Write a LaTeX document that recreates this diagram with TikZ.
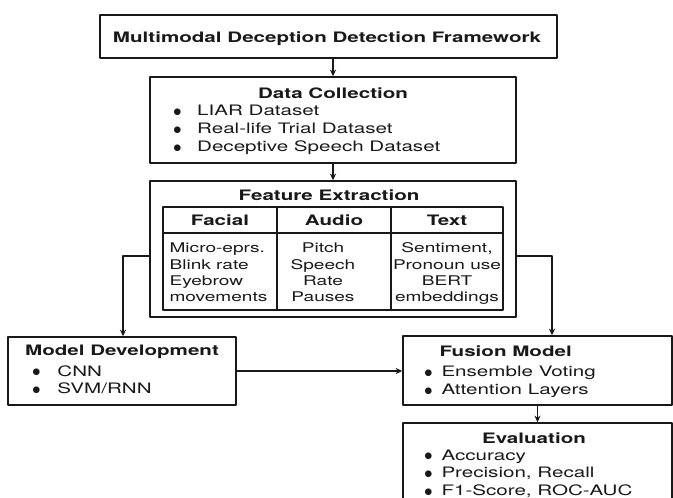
\documentclass[tikz,border=0pt]{standalone}
\usepackage{fontspec}
\setmainfont{TeX Gyre Heros}[FakeStretch=1.43]
\newfontfamily\dotfont{DejaVu Sans}
\usetikzlibrary{fit,arrows.meta}

\newcommand\bodysize{\fontsize{10.8}{13.3}\selectfont}
\newcommand\cellsize{\fontsize{10}{12.2}\selectfont}
\newcommand\dotmark{\raisebox{0.9pt}{\dotfont\fontsize{6.5}{0}\selectfont ●}}

\tikzset{
  box/.style={draw, line width=1.1pt, inner sep=0pt},
  cell/.style={draw, line width=0.9pt, inner sep=0pt},
  head/.style={font=\bodysize\bfseries, anchor=base, inner sep=0pt},
  list/.style={font=\bodysize, anchor=base west, inner sep=0pt},
  col/.style={font=\cellsize, anchor=base, inner sep=0pt},
}

\begin{document}
\begin{tikzpicture}[x=0.75pt, y=0.75pt, >={Stealth[length=5pt,width=4.6pt]}, line join=round, line width=0.9pt, color=black!90]
\useasboundingbox (0,0) rectangle (673,-498);

\node[box, fit={(100,-15) (557,-58)}] (frame) {};
\node[head] (frametxt) at (327,-42.5) {Multimodal Deception Detection Framework};

\node[box, fit={(150,-77) (516,-163)}] (data) {};
\node[head] (datatxt) at (333,-98.5) {Data Collection};
\node[list] (datalist) at (173,-116) {\begin{tabular}[t]{@{}l@{\hspace{12pt}}l@{}}
\dotmark & LIAR Dataset\\
\dotmark & Real-life Trial Dataset\\
\dotmark & Deceptive Speech Dataset
\end{tabular}};

\node[box, fit={(150,-181) (516,-317)}] (feat) {};
\node[head] (feattxt) at (329,-200.5) {Feature Extraction};
\foreach \n/\xa/\xb in {fac/163/277, aud/277/391, tex/391/503} {
  \node[cell, fit={(\xa,-207) (\xb,-233)}] (\n-h) {};
  \node[cell, fit={(\xa,-233) (\xb,-310)}] (\n-b) {};
}
\foreach \n/\x/\t in {fac/220/Facial, aud/334/Audio, tex/447/Text}
  \node[head] (\n-t) at (\x,-226) {\t};
\node[col, anchor=base west] (faclist) at (169,-253) {\begin{tabular}[t]{@{}l@{}}
Micro-eprs.\\Blink rate\\Eyebrow\\movements\end{tabular}};
\node[col] (audlist) at (323,-253) {\begin{tabular}[t]{@{}c@{}}
Pitch\\Speech\\Rate\\Pauses\end{tabular}};
\node[col] (texlist) at (447,-253) {\begin{tabular}[t]{@{}c@{}}
Sentiment,\\Pronoun use\\BERT\\embeddings\end{tabular}};

\node[box, fit={(8,-337) (236,-405)}] (model) {};
\node[head] (modeltxt) at (122,-355.5) {Model Development};
\node[list] (modellist) at (32,-376) {\begin{tabular}[t]{@{}l@{\hspace{13pt}}l@{}}
\dotmark & CNN\\
\dotmark & SVM/RNN
\end{tabular}};

\node[box, fit={(403,-336) (672,-405)}] (fusion) {};
\node[head, anchor=base west] (fusiontxt) at (439,-356) {Fusion Model};
\node[list] (fusionlist) at (424,-376.5) {\begin{tabular}[t]{@{}l@{\hspace{7pt}}l@{}}
\dotmark & Ensemble Voting\\
\dotmark & Attention Layers
\end{tabular}};

\node[box, fit={(403,-423) (672,-520)}] (eval) {};
\node[head] (evaltxt) at (534,-443) {Evaluation};
\node[list] (evallist) at (424,-460) {\begin{tabular}[t]{@{}l@{\hspace{7pt}}l@{}}
\dotmark & Accuracy\\
\dotmark & Precision, Recall\\
\dotmark & F1-Score, ROC-AUC
\end{tabular}};

\coordinate (fl) at (123,-256);
\coordinate (fr) at (552,-256);

\draw[->] (data.north |- frame.south) -- (data.north);
\draw[->] (data.south) -- (feat.north);
\draw[->] (feat.west |- fl) -- (fl) -- (fl |- model.north);
\draw[->] (feat.east |- fr) -- (fr) -- (fr |- fusion.north);
\draw[->] (model.east) -- (model.east -| fusion.west);
\draw[->] (fusion.south -| eval.north) -- (eval.north);
\end{tikzpicture}
\end{document}
